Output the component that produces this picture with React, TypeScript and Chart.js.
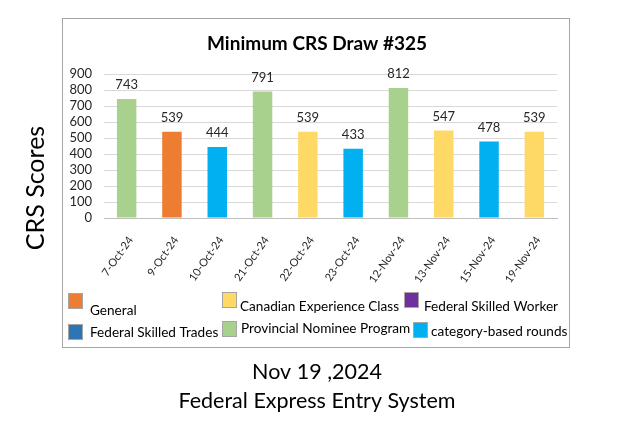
import React, { useEffect, useRef } from 'react';
import { Chart, registerables } from 'chart.js';

Chart.register(...registerables);

const chartTitle = 'Minimum CRS Draw #325';
const yAxisTitle = 'CRS Scores';
const footerLines = ['Nov 19 ,2024', 'Federal Express Entry System'];

const categories = ['7-Oct-24', '9-Oct-24', '10-Oct-24', '21-Oct-24', '22-Oct-24', '23-Oct-24', '12-Nov-24', '13-Nov-24', '15-Nov-24', '19-Nov-24'];
const scores = [743, 539, 444, 791, 539, 433, 812, 547, 478, 539];
const drawTypes = [
  'Provincial Nominee Program',
  'General',
  'category-based rounds',
  'Provincial Nominee Program',
  'Canadian Experience Class',
  'category-based rounds',
  'Provincial Nominee Program',
  'Canadian Experience Class',
  'category-based rounds',
  'Canadian Experience Class',
];
const yMin = 0;
const yMax = 900;
const yStep = 100;

const legendLabels = ['General', 'Canadian Experience Class', 'Federal Skilled Worker', 'Federal Skilled Trades', 'Provincial Nominee Program', 'category-based rounds'];
const legendColors = ['#ED7D31', '#FFD966', '#7030A0', '#2E75B6', '#A9D18E', '#00B0F0'];

// layout (positions only, not data)
const FONT = 'Lato, "Open Sans", sans-serif';
const legendLayout = [
  { sx: 68, sy: 293, tx: 90, ty: 311 },
  { sx: 222, sy: 292, tx: 240, ty: 307 },
  { sx: 404, sy: 292, tx: 424, ty: 307 },
  { sx: 68, sy: 324, tx: 90, ty: 333 },
  { sx: 222, sy: 321, tx: 241, ty: 329 },
  { sx: 413, sy: 322, tx: 431, ty: 332 },
];

const colorFor = (t: string) => legendColors[legendLabels.indexOf(t)];

const decorPlugin = {
  id: 'decor',
  beforeDraw(chart: any) {
    const ctx = chart.ctx;
    ctx.save();
    ctx.fillStyle = '#FFFFFF';
    ctx.fillRect(0, 0, chart.width, chart.height);
    ctx.strokeStyle = '#A6A6A6';
    ctx.lineWidth = 1;
    ctx.strokeRect(62.5, 18.5, 507, 329);
    ctx.restore();
  },
  afterDraw(chart: any) {
    const ctx = chart.ctx;
    ctx.save();
    ctx.fillStyle = '#000000';
    ctx.textAlign = 'center';
    ctx.textBaseline = 'middle';

    // title
    ctx.font = `bold 19px ${FONT}`;
    ctx.fillText(chartTitle, 317, 44);

    // data labels
    ctx.font = `13px ${FONT}`;
    ctx.fillStyle = '#262626';
    const meta = chart.getDatasetMeta(0);
    meta.data.forEach((bar: any, i: number) => {
      ctx.fillText(String(scores[i]), bar.x, bar.y - 14);
    });

    // y axis title
    ctx.save();
    ctx.fillStyle = '#000000';
    ctx.translate(36, 188);
    ctx.rotate(-Math.PI / 2);
    ctx.font = `25px ${FONT}`;
    ctx.fillText(yAxisTitle, 0, 0);
    ctx.restore();

    // legend
    ctx.textAlign = 'left';
    ctx.font = `13.6px ${FONT}`;
    legendLabels.forEach((label, i) => {
      const p = legendLayout[i];
      ctx.fillStyle = legendColors[i];
      ctx.fillRect(p.sx, p.sy, 15, 16);
      ctx.strokeStyle = '#A6A6A6';
      ctx.lineWidth = 1;
      ctx.strokeRect(p.sx + 0.5, p.sy + 0.5, 14, 15);
      ctx.fillStyle = '#000000';
      ctx.fillText(label, p.tx, p.ty);
    });

    // footer
    ctx.textAlign = 'center';
    ctx.font = `21.5px ${FONT}`;
    ctx.fillStyle = '#000000';
    ctx.fillText(footerLines[0], 317, 372);
    ctx.fillText(footerLines[1], 317, 401);
    ctx.restore();
  },
};

export default function App() {
  const ref = useRef<HTMLCanvasElement>(null);

  useEffect(() => {
    if (!ref.current) return;
    const chart = new Chart(ref.current, {
      type: 'bar',
      data: {
        labels: categories,
        datasets: [
          {
            data: scores,
            backgroundColor: drawTypes.map(colorFor),
            barPercentage: 0.43,
            categoryPercentage: 1,
          },
        ],
      },
      options: {
        responsive: false,
        animation: false,
        devicePixelRatio: 1,
        layout: { padding: { left: 62, right: 73, top: 74, bottom: 132 } },
        plugins: {
          legend: { display: false },
          title: { display: false },
          tooltip: { enabled: false },
        },
        scales: {
          x: {
            grid: { display: false },
            border: { display: true, color: '#BFBFBF' },
            ticks: {
              minRotation: 55,
              maxRotation: 55,
              autoSkip: false,
              padding: 8,
              labelOffset: 4,
              color: '#262626',
              font: { family: FONT, size: 11 },
            },
            afterFit(scale: any) {
              scale.height = 80;
            },
          },
          y: {
            min: yMin,
            max: yMax,
            grid: { color: '#D9D9D9', drawTicks: false },
            border: { display: false },
            ticks: {
              stepSize: yStep,
              autoSkip: false,
              padding: 12,
              color: '#262626',
              font: { family: FONT, size: 13 },
            },
            afterFit(scale: any) {
              scale.width = 42;
            },
          },
        },
      },
      plugins: [decorPlugin],
    });
    return () => chart.destroy();
  }, []);

  return (
    <div style={{ position: 'absolute', left: 0, top: 0, width: 630, height: 430 }}>
      <canvas ref={ref} width={630} height={430} style={{ display: 'block' }} />
    </div>
  );
}
